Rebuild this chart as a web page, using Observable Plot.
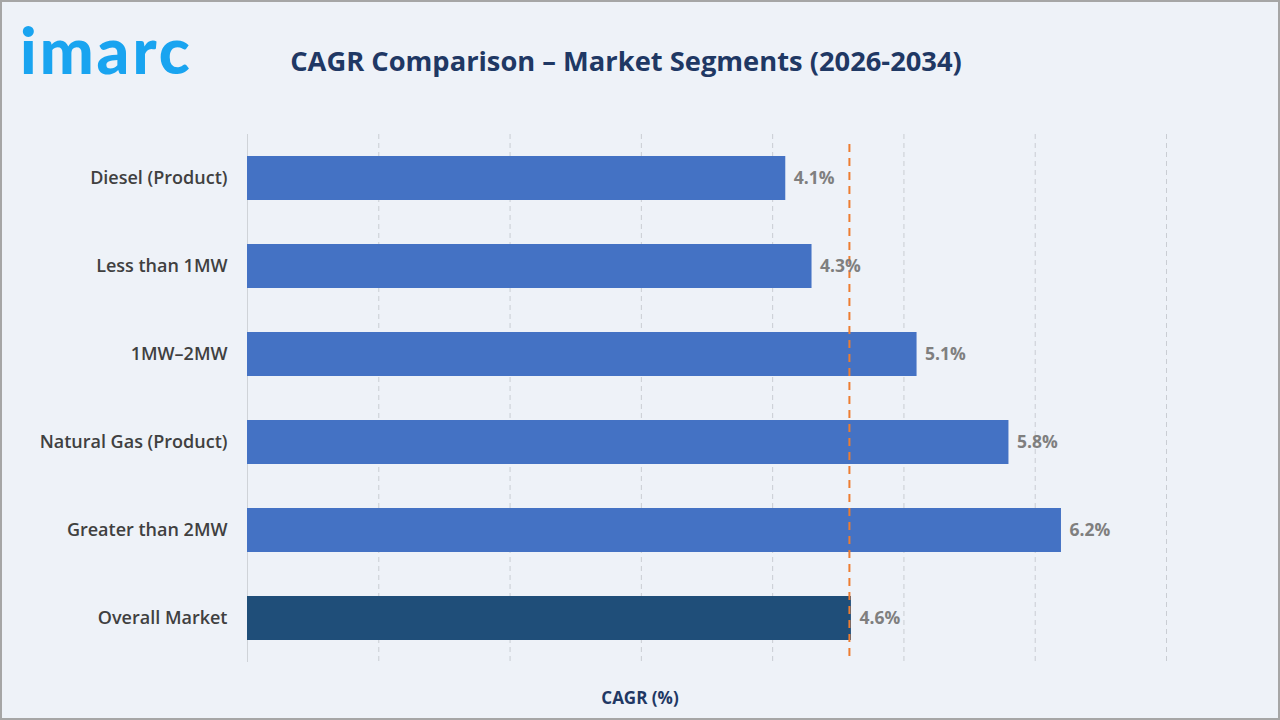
<!DOCTYPE html>
<html><head><meta charset="utf-8">
<script src="https://cdn.jsdelivr.net/npm/d3@7"></script>
<script src="https://cdn.jsdelivr.net/npm/@observablehq/plot@0.6"></script>
<style>
html,body{margin:0;padding:0;}
body{width:1280px;height:720px;background:#eef2f8;position:relative;overflow:hidden;font-family:"Open Sans",sans-serif;}
#frame{position:absolute;left:0;top:0;width:1276px;height:716px;border:2px solid #a6a6a6;}
#logo{position:absolute;left:20px;top:18px;font-family:"Lato",sans-serif;font-weight:900;font-size:64px;color:#19a4f0;letter-spacing:3px;line-height:1;}
#title{position:absolute;left:0;width:1252px;top:42px;text-align:center;font-weight:700;font-size:27.3px;color:#1f3864;}
#chart{position:absolute;left:0;top:100px;}
#xlabel{position:absolute;left:0;width:1280px;top:686px;text-align:center;font-weight:700;font-size:17px;color:#1f3864;}
</style></head>
<body>
<div id="frame"></div>
<div id="logo">imarc</div>
<div id="title">CAGR Comparison – Market Segments (2026-2034)</div>
<div id="chart"></div>
<div id="xlabel">CAGR (%)</div>
<script>
const categories = ["Diesel (Product)", "Less than 1MW", "1MW–2MW", "Natural Gas (Product)", "Greater than 2MW", "Overall Market"];
const values = [4.1, 4.3, 5.1, 5.8, 6.2, 4.6];
const overall = 4.6;
const gridTicks = [1, 2, 3, 4, 5, 6, 7];

const data = categories.map((c, i) => ({category: c, value: values[i], overall: c === "Overall Market"}));

const chart = Plot.plot({
  width: 1280,
  height: 620,
  marginLeft: 247,
  marginRight: 114,
  marginTop: 34,
  marginBottom: 58,
  style: {background: "transparent", fontFamily: "Open Sans, sans-serif"},
  x: {domain: [0, 7], axis: null},
  y: {domain: categories, paddingInner: 0.5, paddingOuter: 0.25, axis: null},
  marks: [
    Plot.ruleX(gridTicks, {stroke: "#c9cdd3", strokeDasharray: "5,4", strokeWidth: 1}),
    Plot.ruleX([0], {stroke: "#cfd3d8", strokeWidth: 1}),
    Plot.barX(data, {x: "value", y: "category", fill: d => d.overall ? "#1f4e79" : "#4472c4"}),
    Plot.ruleX([overall], {stroke: "#ed7d31", strokeWidth: 2, strokeDasharray: "8,6", insetTop: 10, insetBottom: 6, dx: -2}),
    Plot.text(data, {x: "value", y: "category", text: d => d.value.toFixed(1) + "%", textAnchor: "start", dx: 8, fill: "#7f7f7f", fontWeight: 700, fontSize: 17.5}),
    Plot.axisY({tickSize: 0, tickPadding: 20, fontSize: 18, fontWeight: 600, color: "#404040", label: null, style: {letterSpacing: "0.25px"}})
  ]
});
document.getElementById("chart").append(chart);
</script>
</body></html>
